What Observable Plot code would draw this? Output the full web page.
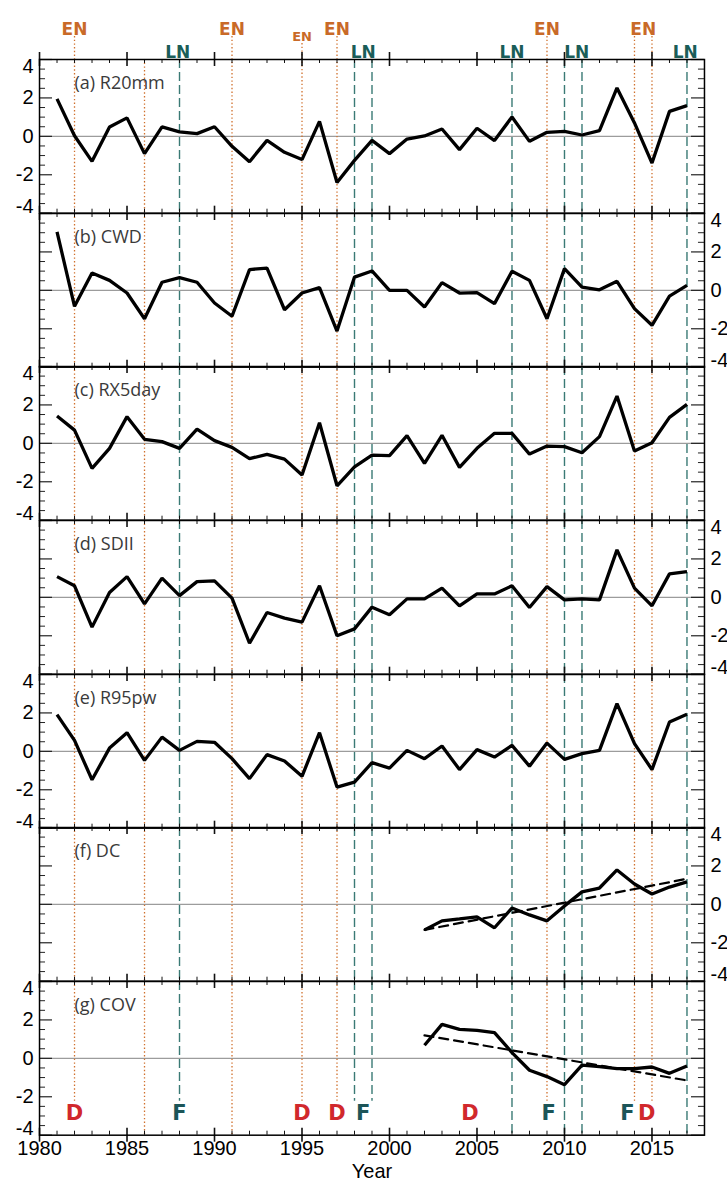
<!DOCTYPE html>
<html><head><meta charset="utf-8">
<script src="https://cdn.jsdelivr.net/npm/d3@7"></script>
<script src="https://cdn.jsdelivr.net/npm/@observablehq/plot@0.6"></script>
<style>
body{margin:0;background:#fff;overflow:hidden;}
#chart svg{display:block;overflow:visible;background:transparent !important;}
</style></head><body><div id="chart"></div>
<script>
// ---------- data ----------
const years = d3.range(1981, 2018);
const r20mm = [1.95,0.03,-1.30,0.49,0.96,-0.90,0.49,0.23,0.14,0.50,-0.52,-1.32,-0.21,-0.83,-1.21,0.78,-2.40,-1.25,-0.21,-0.90,-0.14,0.02,0.38,-0.69,0.42,-0.22,1.01,-0.26,0.21,0.26,0.07,0.30,2.52,0.70,-1.39,1.30,1.60];
const cwd = [3.04,-0.83,0.90,0.52,-0.14,-1.48,0.42,0.66,0.42,-0.66,-1.35,1.08,1.16,-1.01,-0.14,0.14,-2.12,0.69,1.01,0.00,0.00,-0.87,0.40,-0.14,-0.12,-0.69,0.99,0.52,-1.48,1.13,0.17,0.03,0.47,-0.95,-1.82,-0.30,0.26];
const rx5day = [1.42,0.69,-1.30,-0.26,1.39,0.21,0.09,-0.26,0.74,0.14,-0.21,-0.80,-0.57,-0.82,-1.65,1.07,-2.21,-1.22,-0.61,-0.64,0.40,-1.04,0.42,-1.25,-0.26,0.52,0.52,-0.56,-0.14,-0.17,-0.49,0.35,2.46,-0.40,0.03,1.35,2.03];
const sdii = [1.08,0.60,-1.55,0.25,1.08,-0.34,1.00,0.09,0.82,0.86,-0.04,-2.39,-0.79,-1.08,-1.29,0.60,-2.00,-1.64,-0.51,-0.91,-0.08,-0.08,0.48,-0.44,0.18,0.18,0.60,-0.53,0.56,-0.13,-0.08,-0.13,2.47,0.48,-0.44,1.22,1.34];
const r95pw = [1.91,0.57,-1.48,0.17,0.97,-0.47,0.74,0.05,0.52,0.47,-0.38,-1.42,-0.17,-0.50,-1.30,0.97,-1.86,-1.60,-0.59,-0.87,0.05,-0.38,0.28,-0.95,0.09,-0.30,0.31,-0.77,0.43,-0.42,-0.12,0.05,2.48,0.40,-0.95,1.53,1.93];
const shortYears = d3.range(2002, 2018);
const dc  = [-1.33,-0.86,-0.76,-0.65,-1.22,-0.19,-0.55,-0.86,-0.08,0.65,0.85,1.79,1.06,0.54,0.90,1.17];
const cov = [0.68,1.77,1.51,1.46,1.34,0.30,-0.62,-0.95,-1.37,-0.35,-0.43,-0.54,-0.54,-0.45,-0.78,-0.40];
const trendYears = [2002, 2017];
const dcTrend  = [-1.33, 1.33];
const covTrend = [1.20, -1.15];

const panelLabels = ["(a) R20mm","(b) CWD","(c) RX5day","(d) SDII","(e) R95pw","(f) DC","(g) COV"];

// event years
const enYears = [1982,1986,1991,1995,1997,2009,2014,2015];
const lnYears = [1988,1998,1999,2007,2010,2011,2017];
const enTopLong = [1982,1991,1997,2009,2014,2015];
const enTopShort = [1995];
const bottomShort = [1982,1988,1995,1997,1998,1999,2009,2014,2015];
// event labels
const enLabelX = [1982,1991,1997,2009,2014.5];
const enSmallLabelX = [1995];
const lnLabelX = [1987.9,1998.5,2007,2010.7,2016.9];
const dLabelX = [1982,1995,1997,2004.6,2014.7];
const fLabelX = [1988,1998.5,2009.1,2013.6];

const yMajor = [-4,-2,0,2,4];
const yMinor = d3.range(-4, 4.001, 0.5).filter(v => !yMajor.includes(v));
const xMajor = d3.range(1980, 2016, 5);
const xMinor = d3.range(1981, 2018).filter(v => !xMajor.includes(v));

// ---------- layout ----------
const W = 727, ML = 39, MR = 23, PH = 153.7;
const PW = W - ML - MR;
const tickFont = "Liberation Sans, Arial, sans-serif";
const tagFont = "DejaVu Sans, sans-serif";

const panels = [
  {label: panelLabels[0], x: years, y: r20mm},
  {label: panelLabels[1], x: years, y: cwd},
  {label: panelLabels[2], x: years, y: rx5day},
  {label: panelLabels[3], x: years, y: sdii},
  {label: panelLabels[4], x: years, y: r95pw},
  {label: panelLabels[5], x: shortYears, y: dc, tx: trendYears, ty: dcTrend},
  {label: panelLabels[6], x: shortYears, y: cov, tx: trendYears, ty: covTrend}
];

function eventRules(arr, style, first, last) {
  return arr.map(yr => {
    const top = first ? (enTopLong.includes(yr) ? 23 : enTopShort.includes(yr) ? 16 : 0) : 0;
    const bot = last && bottomShort.includes(yr) ? 34 : 0;
    return Plot.ruleX([yr], {x: d => d, ...style, insetTop: -top, insetBottom: bot});
  });
}

const chart = document.getElementById("chart");
panels.forEach((p, i) => {
  const first = i === 0, last = i === panels.length - 1;
  const mt = first ? 59 : 0, mb = last ? 54 : 0;
  const leftLabels = i % 2 === 0;
  const rows = p.x.map((x, k) => ({x, y: p.y[k]}));
  const marks = [
    Plot.ruleY([0], {y: d => d, stroke: "#9c9c9c", strokeWidth: 1.3}),
    ...eventRules(enYears, {stroke: "#d0702c", strokeWidth: 1.3, strokeDasharray: "1.4,2.3"}, first, last),
    ...eventRules(lnYears, {stroke: "#3a7a75", strokeWidth: 1.4, strokeDasharray: "9,4"}, first, last),
    // y ticks left and right
    Plot.ruleY(yMajor, {y: d => d, stroke: "#222", strokeWidth: 1.2, insetRight: PW - 13}),
    Plot.ruleY(yMinor, {y: d => d, stroke: "#222", strokeWidth: 1, insetRight: PW - 6}),
    Plot.ruleY(yMajor, {y: d => d, stroke: "#222", strokeWidth: 1.2, insetLeft: PW - 13}),
    Plot.ruleY(yMinor, {y: d => d, stroke: "#222", strokeWidth: 1, insetLeft: PW - 6}),
    // x ticks top and bottom edges
    Plot.ruleX(xMajor, {x: d => d, stroke: "#111", strokeWidth: 1.6, insetTop: first ? -7 : 0, insetBottom: PH - 7}),
    Plot.ruleX(xMinor, {x: d => d, stroke: "#111", strokeWidth: 1, insetBottom: PH - 4}),
    Plot.ruleX(xMajor, {x: d => d, stroke: "#111", strokeWidth: 1.6, insetBottom: last ? -7 : 0, insetTop: PH - 7}),
    Plot.ruleX(xMinor, {x: d => d, stroke: "#111", strokeWidth: 1, insetTop: PH - 4}),
    Plot.frame({stroke: "#000", strokeWidth: 1.5}),
    // data
    Plot.line(rows, {x: "x", y: "y", stroke: "#000", strokeWidth: 3.3, strokeLinejoin: "miter", strokeLinecap: "butt"}),
    // panel label
    Plot.text([p.label], {frameAnchor: "top-left", dx: 35, dy: 17, textAnchor: "start", fontSize: 18, fill: "#3a3a3a", fontFamily: "Open Sans, sans-serif"}),
  ];
  if (p.tx) {
    const trow = p.tx.map((x, k) => ({x, y: p.ty[k]}));
    marks.push(Plot.line(trow, {x: "x", y: "y", stroke: "#000", strokeWidth: 2.2, strokeDasharray: "9,6"}));
  }
  // y tick labels
  const anchorSide = leftLabels ? "left" : "right";
  const lab = {frameAnchor: anchorSide, dx: leftLabels ? -6 : 6, textAnchor: leftLabels ? "end" : "start", fontSize: 20, fill: "#000", fontFamily: tickFont};
  marks.push(Plot.text([-2, 0, 2], {y: d => d, text: d => String(d), ...lab}));
  marks.push(Plot.text([4], {y: d => d, text: d => String(d), ...lab, dy: 7}));
  marks.push(Plot.text([-4], {y: d => d, text: d => String(d), ...lab, dy: -7}));

  if (first) {
    marks.push(Plot.text(enLabelX, {x: d => d, text: () => "EN", frameAnchor: "top", dy: -37, fontSize: 17, fontWeight: "bold", fill: "#c96a28", fontFamily: tagFont}));
    marks.push(Plot.text(enSmallLabelX, {x: d => d, text: () => "EN", frameAnchor: "top", dy: -28, fontSize: 13, fontWeight: "bold", fill: "#c96a28", fontFamily: tagFont}));
    marks.push(Plot.text(lnLabelX, {x: d => d, text: () => "LN", frameAnchor: "top", dy: -13.5, fontSize: 17, fontWeight: "bold", fill: "#1a5d58", fontFamily: tagFont}));
  }
  if (last) {
    marks.push(Plot.text(dLabelX, {x: d => d, text: () => "D", frameAnchor: "bottom", dy: -15, fontSize: 21, fontWeight: "bold", fill: "#d1282c", fontFamily: tagFont}));
    marks.push(Plot.text(fLabelX, {x: d => d, text: () => "F", frameAnchor: "bottom", dy: -15, fontSize: 21, fontWeight: "bold", fill: "#1c5558", fontFamily: tagFont}));
    marks.push(Plot.text(xMajor, {x: d => d, text: d => String(d), frameAnchor: "bottom", dy: 20, fontSize: 20, fill: "#000", fontFamily: tickFont}));
    marks.push(Plot.text(["Year"], {frameAnchor: "bottom", dy: 43, fontSize: 20, fill: "#000", fontFamily: tickFont}));
  }
  const svg = Plot.plot({
    width: W, height: mt + PH + mb,
    marginLeft: ML, marginRight: MR, marginTop: mt, marginBottom: mb,
    x: {domain: [1980, 2018], axis: null},
    y: {domain: [-4, 4], axis: null},
    style: {background: "transparent", overflow: "visible"},
    marks
  });
  chart.appendChild(svg);
});
</script>
</body></html>
